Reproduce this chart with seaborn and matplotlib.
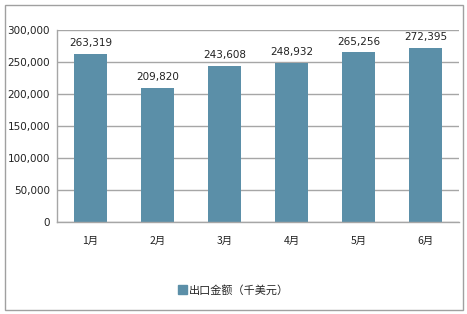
import matplotlib
matplotlib.use("Agg")
import matplotlib.pyplot as plt
import matplotlib.patches as mpatches
import seaborn as sns
import pandas as pd

months = ["1月", "2月", "3月", "4月", "5月", "6月"]
values = [263319, 209820, 243608, 248932, 265256, 272395]
series_name = "出口金额（千美元）"
yticks = [0, 50000, 100000, 150000, 200000, 250000, 300000]

sns.set_style("white")
plt.rcParams['font.family'] = ['DejaVu Sans', 'Noto Sans CJK SC']

df = pd.DataFrame({"month": months, "value": values})
color = "#5B8FA8"

fig = plt.figure(figsize=(4.67, 3.14), dpi=100)
ax = fig.add_axes([0.122, 0.293, 0.861, 0.611])
sns.barplot(data=df, x="month", y="value", color=color, width=0.5, ax=ax,
            saturation=1, edgecolor="none")

ax.set_ylim(0, 300000)
ax.set_yticks(yticks)
ax.set_yticklabels([f"{v:,}" for v in yticks], fontsize=7.5, color="#222222")
ax.set_xticklabels(months, fontsize=7.5, color="#222222",
                   family=['Noto Sans CJK SC', 'DejaVu Sans'])
ax.set_xlabel("")
ax.set_ylabel("")
ax.yaxis.grid(True, color="#A6A6A6", linewidth=1)
ax.set_axisbelow(True)
ax.tick_params(axis="y", length=0, pad=5)
ax.tick_params(axis="x", length=0, pad=10)
for s in ["top", "right"]:
    ax.spines[s].set_visible(False)
for s in ["left", "bottom"]:
    ax.spines[s].set_color("#A6A6A6")
    ax.spines[s].set_linewidth(1)

for p, v in zip(ax.patches, values):
    ax.text(p.get_x() + p.get_width() / 2, v + 9000, f"{v:,}",
            ha="center", va="bottom", fontsize=7.5, color="#222222")

handle = mpatches.Patch(color=color, label=series_name)
fig.legend(handles=[handle], loc="center", bbox_to_anchor=(0.5, 0.076),
           frameon=False, handlelength=0.8, handleheight=0.8, handletextpad=0.2,
           prop={"family": ['Noto Sans CJK SC', 'DejaVu Sans'], "size": 8})

border = mpatches.Rectangle((5 / 467, 4 / 314), 458 / 467, 305 / 314,
                            transform=fig.transFigure, fill=False,
                            edgecolor="#A0A0A0", linewidth=1)
fig.patches.append(border)

fig.savefig("out.png", dpi=100)
